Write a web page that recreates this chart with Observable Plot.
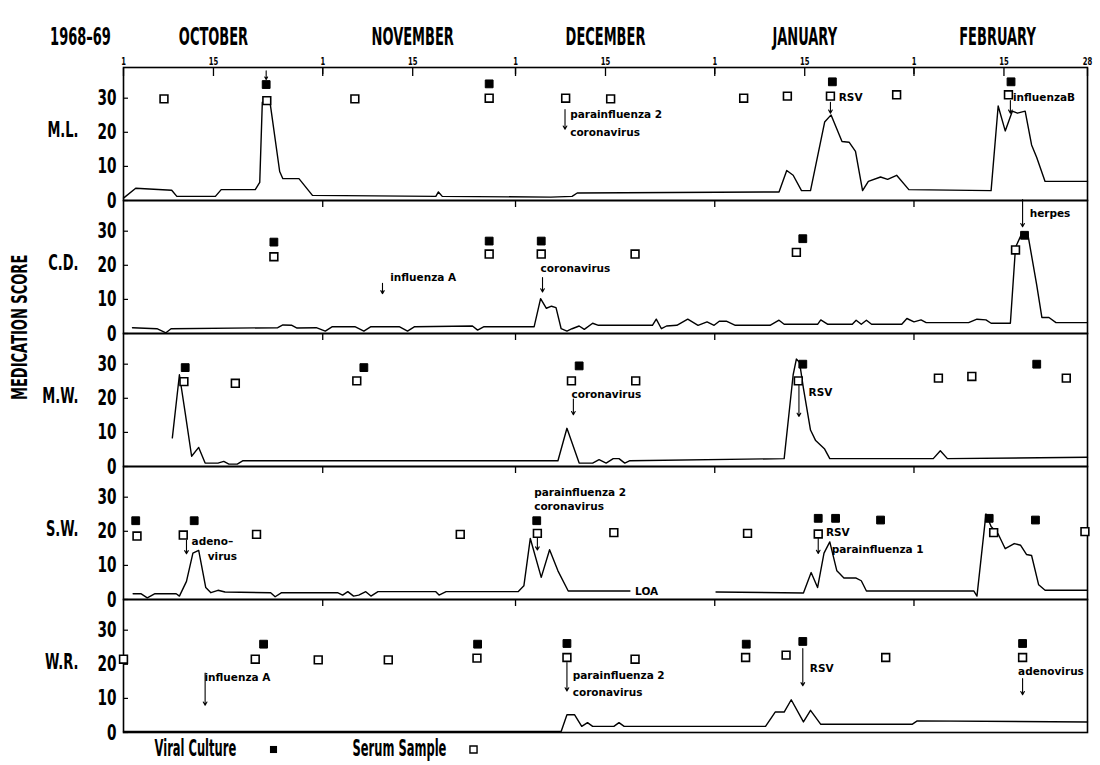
<!DOCTYPE html>
<html>
<head>
<meta charset="utf-8">
<script src="https://cdn.jsdelivr.net/npm/d3@7"></script>
<script src="https://cdn.jsdelivr.net/npm/@observablehq/plot@0.6"></script>
<style>
  body { margin: 0; background: #fff; }
</style>
</head>
<body>
<div id="chart"></div>
<script>
// ---- categories & tick labels ----
const patients = ["M.L.", "C.D.", "M.W.", "S.W.", "W.R."];
const season = "1968–69";
const months = ["OCTOBER", "NOVEMBER", "DECEMBER", "JANUARY", "FEBRUARY"];
const monthMidDays = [14, 45, 75, 106, 136];          // days after Oct 1
const tickDays = [0, 14, 31, 45, 61, 75, 92, 106, 123, 137, 150];
const tickLabels = ["1", "15", "1", "15", "1", "15", "1", "15", "1", "15", "28"];
const monthStartDays = [31, 61, 92, 123];
const scoreTicks = [0, 10, 20, 30];
const yLabel = "MEDICATION SCORE";
const legendViral = "Viral Culture";
const legendSerum = "Serum Sample";

// ---- medication score series: [day after Oct 1, score] ----
const scoreML = [[0,0.7],[1.9,3.6],[7.5,3.0],[8.3,1.2],[14.3,1.2],[15.2,3.2],[20.5,3.2],[21.2,5.3],[21.6,28.8],[22.8,28.8],[24.3,8.5],[24.8,6.4],[27.3,6.4],[29.4,1.5],[48.6,1.2],[49.0,2.5],[49.6,1.2],[66.5,1.0],[69.8,1.2],[70.6,2.2],[102.0,2.5],[103.2,8.8],[104.2,7.4],[105.5,2.9],[106.9,2.9],[109.1,23.0],[110.1,25.1],[111.8,17.3],[112.9,17.1],[113.9,14.4],[115.0,2.9],[115.9,5.6],[117.8,6.9],[118.9,6.2],[120.3,7.4],[122.2,3.2],[135.0,2.9],[136.1,27.7],[137.2,20.4],[138.3,26.2],[139.1,25.6],[140.3,26.2],[141.3,16.3],[142.1,12.6],[143.4,5.6],[150,5.6]];
const scoreCD = [[1.4,1.7],[5.2,1.4],[6.6,0.2],[7.4,1.4],[24.0,1.7],[24.8,2.5],[26.2,2.4],[27.0,1.6],[30.0,1.7],[31.4,0.7],[32.5,2.0],[36.0,2.0],[37.4,0.7],[38.5,2.0],[42.9,2.0],[44.2,0.7],[45.3,2.0],[54.3,2.2],[55.1,1.0],[56.1,2.0],[63.9,2.0],[64.9,10.2],[65.8,7.4],[66.6,8.0],[67.3,7.6],[68.1,1.4],[69.0,0.7],[69.8,1.4],[70.9,2.2],[71.7,1.2],[73.0,3.0],[73.9,2.4],[82.3,2.4],[82.9,4.2],[83.7,1.4],[84.5,2.2],[86.1,2.4],[87.8,4.2],[89.4,2.4],[90.8,3.4],[91.9,2.4],[92.7,3.6],[93.8,3.6],[95.2,2.4],[100.6,2.4],[102.0,3.9],[102.8,2.7],[108.0,2.7],[108.5,4.0],[109.6,2.7],[113.4,2.7],[114.0,3.9],[114.8,2.7],[115.6,3.9],[116.4,2.7],[121.1,2.7],[121.9,4.4],[123.0,3.4],[124.1,4.0],[124.9,3.2],[131.5,3.2],[132.8,4.2],[134.2,4.0],[135.0,3.0],[138.0,3.0],[138.8,25.3],[139.9,29.8],[140.7,29.3],[142.1,14.2],[142.9,4.7],[144.0,4.7],[145.1,3.2],[150,3.2]];
const scoreMW = [[7.6,8.4],[8.7,26.9],[9.6,15.7],[10.6,3.0],[11.7,5.6],[12.7,1.0],[14.7,1.0],[15.6,1.5],[16.4,0.7],[17.7,0.7],[18.6,1.7],[66.5,1.7],[67.6,1.7],[69.0,11.2],[70.9,1.0],[73.0,1.0],[74.0,2.0],[75.1,1.0],[76.2,2.3],[77.1,2.3],[78.0,1.0],[78.8,1.7],[102.8,2.3],[104.2,26.9],[104.7,31.5],[105.2,30.5],[105.8,22.9],[106.9,10.7],[107.7,7.6],[109.1,5.1],[109.9,2.3],[126.0,2.3],[127.1,4.6],[128.2,2.3],[150,2.7]];
const scoreSW = [[1.5,1.7],[2.7,1.7],[3.7,0.5],[4.9,1.7],[8.2,1.7],[8.7,1.0],[9.8,5.3],[10.8,13.6],[11.7,14.4],[12.8,3.5],[13.6,2.0],[14.7,2.7],[15.8,2.2],[22.9,2.0],[23.6,0.8],[24.6,2.0],[33.3,2.0],[34.1,1.3],[34.9,2.3],[35.8,1.0],[36.6,1.3],[37.7,2.3],[38.5,1.0],[39.6,2.3],[48.6,2.3],[49.1,1.3],[50.2,2.3],[61.4,2.3],[62.3,4.0],[63.3,17.9],[65.0,6.5],[66.3,14.6],[67.6,8.4],[69.2,2.5],[78.8,2.5],[85.0,NaN],[92.2,2.2],[105.8,1.9],[107.0,7.9],[108.0,3.5],[109.0,13.6],[109.9,16.9],[111.0,8.4],[112.1,6.3],[114.0,6.3],[114.8,5.5],[115.6,2.5],[132.3,2.5],[132.8,1.0],[134.2,25.1],[135.0,21.4],[136.1,19.2],[137.2,14.9],[138.6,16.4],[139.6,15.9],[140.5,13.2],[141.3,12.9],[142.4,4.3],[143.4,2.7],[150,2.7]];
const scoreWR = [[0,0.3],[68.1,0.3],[69.0,5.2],[70.2,5.2],[71.3,1.8],[72.2,2.9],[73.0,1.8],[76.3,1.8],[77.1,2.9],[77.9,1.8],[99.9,1.8],[101.4,6.0],[102.8,6.0],[103.9,9.6],[105.8,3.1],[106.9,6.5],[108.5,2.4],[122.7,2.4],[123.5,3.4],[150,3.1]];

// ---- serum samples (open squares): [day, height] ----
const serumML = [[6.3,29.8],[22.3,29.3],[36.0,29.8],[56.9,30.0],[68.8,30.0],[75.8,29.8],[96.5,30.0],[103.3,30.6],[110.0,30.6],[120.3,31.0],[137.7,31.0]];
const serumCD = [[23.4,22.5],[56.9,23.3],[65.0,23.3],[79.6,23.3],[104.7,23.8],[138.8,24.5]];
const serumMW = [[9.4,24.9],[17.4,24.4],[36.3,25.1],[69.7,25.1],[79.7,25.1],[105.0,25.1],[126.8,25.9],[132.0,26.4],[146.7,25.9]];
const serumSW = [[2.1,18.6],[9.3,18.9],[20.7,19.1],[52.4,19.1],[64.4,19.4],[76.3,19.6],[97.1,19.4],[108.1,19.2],[135.4,19.6],[149.6,19.9]];
const serumWR = [[0,21.5],[20.5,21.5],[30.3,21.3],[41.2,21.3],[55.0,21.8],[69.0,22.0],[79.6,21.5],[96.8,22.0],[103.1,22.7],[118.6,22.0],[139.9,22.0]];

// ---- viral cultures (filled squares): [day, height] ----
const viralML = [[22.2,34.0],[56.9,34.2],[110.3,34.8],[138.1,34.8]];
const viralCD = [[23.4,26.8],[56.9,27.1],[65.0,27.1],[105.7,27.8],[140.2,28.8]];
const viralMW = [[9.6,29.0],[37.4,29.0],[70.9,29.5],[105.7,30.0],[142.1,30.0]];
const viralSW = [[1.9,23.1],[11.0,23.1],[64.3,23.1],[108.1,23.8],[110.8,23.8],[117.8,23.3],[134.7,23.8],[141.9,23.3]];
const viralWR = [[21.8,25.9],[55.1,25.9],[69.0,26.1],[96.9,25.9],[105.7,26.7],[139.9,26.1]];

// ---- virus isolation arrows: [day, from, to] ----
const arrowsML = [[22.2,38,35.5],[68.7,26.7,20.9],[110.0,28.8,25.6],[138.0,29.3,25.6]];
const arrowsCD = [[40.3,14.7,11.7],[65.2,16.4,12.2],[139.9,39.3,31.3]];
const arrowsMW = [[70.0,19.8,15.2],[105.1,24.9,14.7]];
const arrowsSW = [[9.8,17.4,13.4],[64.4,18.0,14.5],[108.1,18.5,13.5]];
const arrowsWR = [[12.7,17.4,8.0],[69.0,20.5,12.2],[105.7,24.6,13.7],[139.9,15.8,11.1]];

// ---- virus labels: [day, height, text] ----
const notesML = [[69.5,25.1,"parainfluenza 2"],[69.5,19.9,"coronavirus"],[111.3,30.3,"RSV"],[138.4,30.3,"influenzaB"]];
const notesCD = [[41.5,16.4,"influenza A"],[64.9,19.0,"coronavirus"],[141.0,35.1,"herpes"]];
const notesMW = [[69.7,21.0,"coronavirus"],[106.6,21.8,"RSV"]];
const notesSW = [[10.6,16.9,"adeno–"],[13.1,12.6,"virus"],[63.9,31.3,"parainfluenza 2"],[63.9,27.3,"coronavirus"],[109.3,19.6,"RSV"],[110.2,14.6,"parainfluenza 1"],[79.6,2.2,"LOA"]];
const notesWR = [[12.6,16.0,"influenza A"],[69.9,16.8,"parainfluenza 2"],[69.9,11.7,"coronavirus"],[106.8,18.6,"RSV"],[139.2,17.9,"adenovirus"]];

// ---- tables built from the arrays ----
const scoreSeries = [scoreML, scoreCD, scoreMW, scoreSW, scoreWR];
const serumSeries = [serumML, serumCD, serumMW, serumSW, serumWR];
const viralSeries = [viralML, viralCD, viralMW, viralSW, viralWR];
const arrowSeries = [arrowsML, arrowsCD, arrowsMW, arrowsSW, arrowsWR];
const noteSeries = [notesML, notesCD, notesMW, notesSW, notesWR];

const pts = (series) => patients.flatMap((p, i) => series[i].map(([day, score]) => ({patient: p, day, score})));
const scoreRows = pts(scoreSeries);
const serumRows = pts(serumSeries);
const viralRows = pts(viralSeries);
const arrowRows = patients.flatMap((p, i) => arrowSeries[i].map(([day, from, to]) => ({patient: p, day, from, to})));
const noteRows = patients.flatMap((p, i) => noteSeries[i].map(([day, score, text]) => ({patient: p, day, score, text})));

const bigFont = "'DejaVu Sans', sans-serif";
const smallFont = "'DejaVu Sans', sans-serif";

const chart = Plot.plot({
  width: 1100,
  height: 765,
  marginTop: 65,
  marginBottom: 32,
  marginLeft: 123,
  marginRight: 13,
  style: {background: "white", color: "black", fontFamily: bigFont},
  x: {domain: [0, 150], axis: null},
  y: {domain: [0, 39], axis: null},
  fy: {domain: patients, axis: null, padding: 0},
  marks: [
    Plot.frame({stroke: "black", strokeWidth: 1.6}),
    // day ticks with labels on top panel
    Plot.axisX(tickDays, {anchor: "top", label: null, tickSize: -8, tickPadding: 11, strokeWidth: 1.3,
      tickFormat: d => tickLabels[tickDays.indexOf(d)], fontSize: 11, fontWeight: "bold"}),
    // month-start ticks at the top of every panel
    Plot.tickX(monthStartDays, {x: d => d, stroke: "black", strokeWidth: 1.3, insetBottom: 126}),
    // y axis
    Plot.axisY(scoreTicks, {anchor: "left", label: null, tickSize: -5, tickPadding: 12, strokeWidth: 1.2,
      fontSize: 22, fontWeight: "bold"}),
    // month names and season
    Plot.text(months, {x: (d, i) => monthMidDays[i], text: d => d, fy: () => patients[0], frameAnchor: "top",
      dy: -40, fontSize: 25, fontWeight: "bold"}),
    Plot.text([season], {text: d => d, fy: () => patients[0], frameAnchor: "top-left", textAnchor: "middle",
      dx: -43, dy: -40, fontSize: 25, fontWeight: "bold"}),
    // patient labels
    Plot.text(patients, {fy: d => d, text: d => d, y: () => 20.5, frameAnchor: "left", dx: -45, textAnchor: "end",
      fontSize: 21, fontWeight: "bold"}),
    // y label
    Plot.text([yLabel], {text: d => d, fy: () => patients[2], frameAnchor: "left", rotate: -90, dx: -103,
      fontSize: 21, fontWeight: "bold"}),
    // medication score lines
    Plot.line(scoreRows, {x: "day", y: "score", fy: "patient", stroke: "black", strokeWidth: 1.4, curve: "linear"}),
    // arrows
    Plot.arrow(arrowRows, {x1: "day", x2: "day", y1: "from", y2: "to", fy: "patient", stroke: "black",
      strokeWidth: 1.1, headLength: 5}),
    // samples
    Plot.dot(serumRows, {x: "day", y: "score", fy: "patient", symbol: "square", r: 4.4, fill: "white",
      stroke: "black", strokeWidth: 1.6}),
    Plot.dot(viralRows, {x: "day", y: "score", fy: "patient", symbol: "square", r: 4.4, fill: "black",
      stroke: "black", strokeWidth: 1}),
    // virus labels
    Plot.text(noteRows, {x: "day", y: "score", fy: "patient", text: "text", textAnchor: "start",
      fontSize: 10.5, fontWeight: "bold", fontFamily: smallFont, fill: "black"}),
    // legend
    Plot.text([legendViral], {text: d => d, fy: () => patients[4], frameAnchor: "bottom-left", textAnchor: "start",
      lineAnchor: "middle", dx: 31, dy: 16, fontSize: 23, fontWeight: "bold"}),
    Plot.dot([legendViral], {fy: () => patients[4], frameAnchor: "bottom-left", dx: 150, dy: 17,
      symbol: "square", r: 4, fill: "black"}),
    Plot.text([legendSerum], {text: d => d, fy: () => patients[4], frameAnchor: "bottom-left", textAnchor: "start",
      lineAnchor: "middle", dx: 229, dy: 16, fontSize: 23, fontWeight: "bold"}),
    Plot.dot([legendSerum], {fy: () => patients[4], frameAnchor: "bottom-left", dx: 350, dy: 17,
      symbol: "square", r: 4, fill: "white", stroke: "black", strokeWidth: 1.4})
  ]
});
document.getElementById("chart").append(chart);

// Condense the heavy display lettering (narrow gothic face of the original)
const squeeze = (fontSize, factor) => {
  chart.querySelectorAll(`g[font-size="${fontSize}"] text`).forEach(t => {
    const L = t.getComputedTextLength();
    if (L > 0) {
      t.setAttribute("textLength", (L * factor).toFixed(1));
      t.setAttribute("lengthAdjust", "spacingAndGlyphs");
    }
  });
};
squeeze(25, 0.52);
squeeze(22, 0.62);
squeeze(21, 0.62);
squeeze(23, 0.5);
squeeze(11, 0.62);
</script>
</body>
</html>
